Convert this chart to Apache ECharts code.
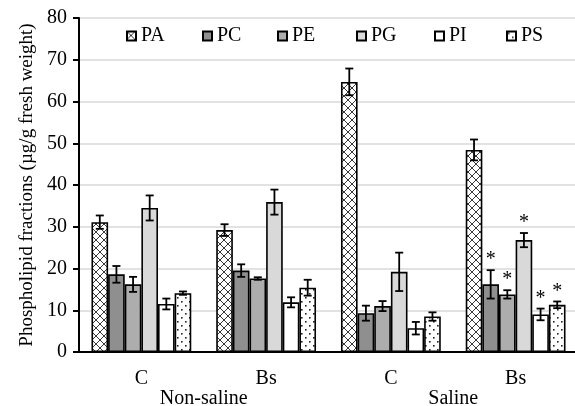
<!DOCTYPE html>
<html>
<head>
<meta charset="utf-8">
<script src="https://cdn.jsdelivr.net/npm/echarts@6/dist/echarts.min.js"></script>
<style>
  html, body { margin: 0; padding: 0; background: #fff; }
  #chart { width: 575px; height: 406px; }
</style>
</head>
<body>
<div id="chart"></div>
<script>
// data
var categories = ['C', 'Bs', 'C', 'Bs'];
var groups = ['Non-saline', 'Saline'];
var lipids = ['PA', 'PC', 'PE', 'PG', 'PI', 'PS'];

var PA = [31.1, 29.2, 64.7, 48.4];
var PC = [18.6, 19.5, 9.3, 16.2];
var PE = [16.2, 17.6, 11.0, 13.8];
var PG = [34.5, 35.9, 19.2, 26.8];
var PI = [11.5, 11.9, 5.7, 9.0];
var PS = [14.1, 15.4, 8.5, 11.3];

var errPA = [1.6, 1.4, 3.2, 2.5];
var errPC = [2.0, 1.5, 1.8, 3.4];
var errPE = [1.8, 0.3, 1.2, 1.0];
var errPG = [3.0, 3.0, 4.6, 1.7];
var errPI = [1.3, 1.2, 1.5, 1.4];
var errPS = [0.4, 1.9, 1.0, 0.8];

// 1 = asterisk above the bar
var starPA = [0, 0, 0, 0];
var starPC = [0, 0, 0, 1];
var starPE = [0, 0, 0, 1];
var starPG = [0, 0, 0, 1];
var starPI = [0, 0, 0, 1];
var starPS = [0, 0, 0, 1];

var yTicks = [0, 10, 20, 30, 40, 50, 60, 70, 80];

var values = [PA, PC, PE, PG, PI, PS];
var errors = [errPA, errPC, errPE, errPG, errPI, errPS];
var stars = [starPA, starPC, starPE, starPG, starPI, starPS];

var FONT = 'Liberation Serif';

function crossPattern() {
  var c = document.createElement('canvas');
  c.width = 8; c.height = 8;
  var g = c.getContext('2d');
  g.fillStyle = '#fff';
  g.fillRect(0, 0, 8, 8);
  g.strokeStyle = '#3a3a3a';
  g.lineWidth = 1;
  g.beginPath();
  g.moveTo(0, 0); g.lineTo(8, 8);
  g.moveTo(8, 0); g.lineTo(0, 8);
  g.stroke();
  return c;
}

function dotPattern() {
  var c = document.createElement('canvas');
  c.width = 8; c.height = 8;
  var g = c.getContext('2d');
  g.fillStyle = '#fff';
  g.fillRect(0, 0, 8, 8);
  g.fillStyle = '#222';
  g.fillRect(1, 1, 1.6, 1.6);
  g.fillRect(5, 5, 1.6, 1.6);
  return c;
}

var fills = [
  { image: crossPattern(), repeat: 'repeat' },
  '#8f8f8f',
  '#adadad',
  '#d9d9d9',
  '#ffffff',
  { image: dotPattern(), repeat: 'repeat' }
];

var series = [];
lipids.forEach(function (name, i) {
  series.push({
    name: name,
    type: 'bar',
    data: values[i],
    barGap: '0%',
    barCategoryGap: '20%',
    itemStyle: { color: fills[i], borderColor: '#000', borderWidth: 1.6 }
  });
});

lipids.forEach(function (name, i) {
  series.push({
    name: 'err' + name,
    type: 'custom',
    z: 5,
    data: values[i].map(function (v, k) { return [k, v, errors[i][k], stars[i][k]]; }),
    renderItem: function (params, api) {
      var x = api.value(0), v = api.value(1), e = api.value(2), s = api.value(3);
      var band = api.size([1, 0])[0];
      var bw = band * 0.8 / 6;
      var cx = api.coord([x, v])[0] - band * 0.4 + bw * (i + 0.5);
      var top = api.coord([x, v + e])[1];
      var bot = api.coord([x, v - e])[1];
      var st = { stroke: '#000', lineWidth: 1.8 };
      var kids = [
        { type: 'line', shape: { x1: cx, y1: top, x2: cx, y2: bot }, style: st },
        { type: 'line', shape: { x1: cx - 4, y1: top, x2: cx + 4, y2: top }, style: st },
        { type: 'line', shape: { x1: cx - 4, y1: bot, x2: cx + 4, y2: bot }, style: st }
      ];
      if (s) {
        kids.push({
          type: 'text',
          style: { text: '*', x: cx, y: top, align: 'center', verticalAlign: 'bottom',
                   font: '20px "' + FONT + '"', fill: '#000' }
        });
      }
      return { type: 'group', children: kids };
    }
  });
});

// one legend block per lipid so the spacing matches the figure
var legendLeft = [121, 197, 272, 351, 429, 501];
var legends = lipids.map(function (name, i) {
  return {
    data: [name],
    left: legendLeft[i],
    top: 21,
    itemWidth: 9,
    itemHeight: 9,
    icon: 'rect',
    textStyle: { fontFamily: FONT, fontSize: 20, color: '#000' }
  };
});

var option = {
  animation: false,
  textStyle: { fontFamily: FONT, color: '#000' },
  legend: legends,
  grid: { left: 79, right: -3, top: 18, bottom: 54, outerBoundsMode: 'none', containLabel: false },
  xAxis: [
    {
      type: 'category',
      data: categories,
      axisLine: { lineStyle: { color: '#000', width: 2 } },
      axisTick: { length: 6, lineStyle: { color: '#000', width: 2 } },
      axisLabel: { fontFamily: FONT, fontSize: 20, color: '#000', margin: 17 }
    },
    {
      type: 'category',
      data: groups,
      position: 'bottom',
      axisLine: { show: false },
      axisTick: { show: false },
      axisLabel: { fontFamily: FONT, fontSize: 20, color: '#000', margin: 37 }
    }
  ],
  yAxis: {
    type: 'value',
    min: yTicks[0],
    max: yTicks[yTicks.length - 1],
    interval: 10,
    name: 'Phospholipid fractions (µg/g fresh weight)',
    nameLocation: 'middle',
    nameGap: 36,
    nameTextStyle: { fontFamily: FONT, fontSize: 19, color: '#000' },
    axisLine: { show: true, lineStyle: { color: '#000', width: 2 } },
    axisTick: { show: true, length: 6, lineStyle: { color: '#000', width: 2 } },
    axisLabel: { fontFamily: FONT, fontSize: 20, color: '#000', margin: 12 },
    splitLine: { lineStyle: { color: '#d9d9d9', width: 1.5 } }
  },
  series: series
};

var chart = echarts.init(document.getElementById('chart'));
chart.setOption(option);
</script>
</body>
</html>
